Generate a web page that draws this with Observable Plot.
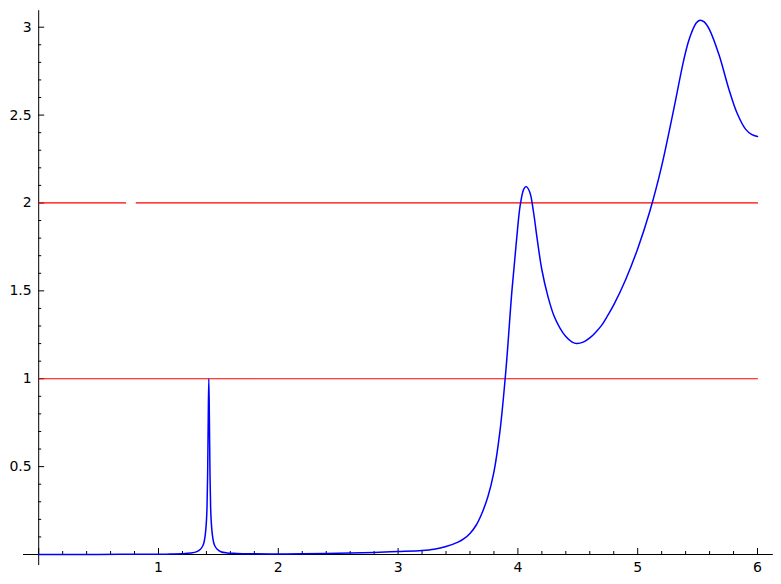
<!DOCTYPE html>
<html>
<head>
<meta charset="utf-8">
<script src="https://cdn.jsdelivr.net/npm/d3@7"></script>
<script src="https://cdn.jsdelivr.net/npm/@observablehq/plot@0.6"></script>
<style>
  html, body { margin: 0; padding: 0; background: white; }
</style>
</head>
<body>
<div id="chart"></div>
<script>
// Blue curve samples
const curveX = [0, 0.5, 1.0, 1.1, 1.2, 1.27, 1.32, 1.35, 1.37, 1.38, 1.39, 1.40, 1.405, 1.41, 1.415, 1.42,
  1.425, 1.43, 1.435, 1.44, 1.45, 1.46, 1.47, 1.49, 1.52, 1.57, 1.65, 1.8, 2.0, 2.2, 2.5, 2.8, 3.0,
  3.2, 3.3, 3.4, 3.5, 3.55, 3.6, 3.65, 3.7, 3.75, 3.80, 3.85, 3.90, 3.95, 3.99, 4.02, 4.05, 4.07, 4.10,
  4.13, 4.16, 4.20, 4.25, 4.30, 4.35, 4.40, 4.45, 4.49, 4.55, 4.60, 4.65, 4.70, 4.75, 4.8, 4.9, 5.0, 5.1, 5.2,
  5.3, 5.38, 5.42, 5.45, 5.49, 5.52, 5.555, 5.60, 5.68, 5.76, 5.83, 5.90, 5.95, 6.0];
const curveY = [0.0003, 0.0006, 0.0015, 0.0025, 0.004, 0.008, 0.016, 0.03, 0.05, 0.07, 0.11, 0.19, 0.27, 0.45, 0.76, 1.0,
  0.76, 0.45, 0.27, 0.19, 0.11, 0.07, 0.05, 0.03, 0.016, 0.009, 0.006, 0.004, 0.003, 0.004, 0.007, 0.012, 0.017,
  0.023, 0.03, 0.045, 0.07, 0.09, 0.12, 0.165, 0.235, 0.33, 0.47, 0.70, 1.05, 1.50, 1.80, 1.99, 2.08, 2.093, 2.06,
  1.95, 1.80, 1.62, 1.47, 1.36, 1.29, 1.24, 1.21, 1.20, 1.21, 1.232, 1.265, 1.305, 1.36, 1.42, 1.565, 1.74, 1.95, 2.21,
  2.53, 2.80, 2.91, 2.97, 3.025, 3.04, 3.03, 2.985, 2.84, 2.65, 2.51, 2.42, 2.39, 2.378];

// Red horizontal lines: level and x-extent of each segment
const redLevels = [1, 2, 2];
const redStarts = [0, 0, 0.814];
const redEnds   = [6, 0.725, 6];

// Axis ticks and labels
const xMajor = [0, 1, 2, 3, 4, 5, 6];
const xMinor = d3.range(0, 30).map(i => i * 0.2).filter(v => Math.abs(v - Math.round(v)) > 1e-6);
const xLabels = [1, 2, 3, 4, 5, 6];
const yMajor = [0, 0.5, 1, 1.5, 2, 2.5, 3];
const yMinor = d3.range(0, 31).map(i => i / 10).filter(v => Math.abs(v * 2 - Math.round(v * 2)) > 1e-6);
const yLabels = ["0.5", "1", "1.5", "2", "2.5", "3"];
const xAxisExtent = [-0.127, 6.132];
const yAxisExtent = [-0.063, 3.094];

const curve = curveX.map((x, i) => ({x, y: curveY[i]}));
const redSegs = redLevels.flatMap((lv, i) => [
  {seg: i, x: redStarts[i], y: lv},
  {seg: i, x: redEnds[i], y: lv}
]);

const font = "DejaVu Sans, sans-serif";

const chart = Plot.plot({
  width: 781,
  height: 584,
  marginLeft: 38.2,
  marginRight: 24,
  marginTop: 26.7,
  marginBottom: 30,
  x: {domain: [0, 6], axis: null},
  y: {domain: [0, 3], axis: null},
  style: {background: "white", fontFamily: font},
  marks: [
    // axes lines
    Plot.ruleY([0], {x1: xAxisExtent[0], x2: xAxisExtent[1], stroke: "black", strokeWidth: 1}),
    Plot.ruleX([0], {y1: yAxisExtent[0], y2: yAxisExtent[1], stroke: "black", strokeWidth: 1}),
    // x ticks (pointing up)
    Plot.ruleX(xMajor, {x: d => d, y1: 0, y2: 0, insetTop: -6, stroke: "black", strokeWidth: 1}),
    Plot.ruleX(xMinor, {x: d => d, y1: 0, y2: 0, insetTop: -3, stroke: "black", strokeWidth: 1}),
    // y ticks (pointing right)
    Plot.ruleY(yMajor, {y: d => d, x1: 0, x2: 0, insetRight: -6, stroke: "black", strokeWidth: 1}),
    Plot.ruleY(yMinor, {y: d => d, x1: 0, x2: 0, insetRight: -3, stroke: "black", strokeWidth: 1}),
    // tick labels
    Plot.text(xLabels, {x: d => d, y: 0, dy: 13, text: d => String(d), fontSize: 14, fill: "black", fontFamily: font}),
    Plot.text(yLabels, {x: 0, y: d => +d, dx: -7, textAnchor: "end", text: d => d, fontSize: 14, fill: "black", fontFamily: font}),
    // red lines
    Plot.line(redSegs, {x: "x", y: "y", z: "seg", stroke: "#ff0000", strokeWidth: 1.2}),
    // blue curve
    Plot.line(curve, {x: "x", y: "y", stroke: "#0000ff", strokeWidth: 1.5, curve: "catmull-rom"})
  ]
});

document.getElementById("chart").appendChild(chart);
</script>
</body>
</html>
